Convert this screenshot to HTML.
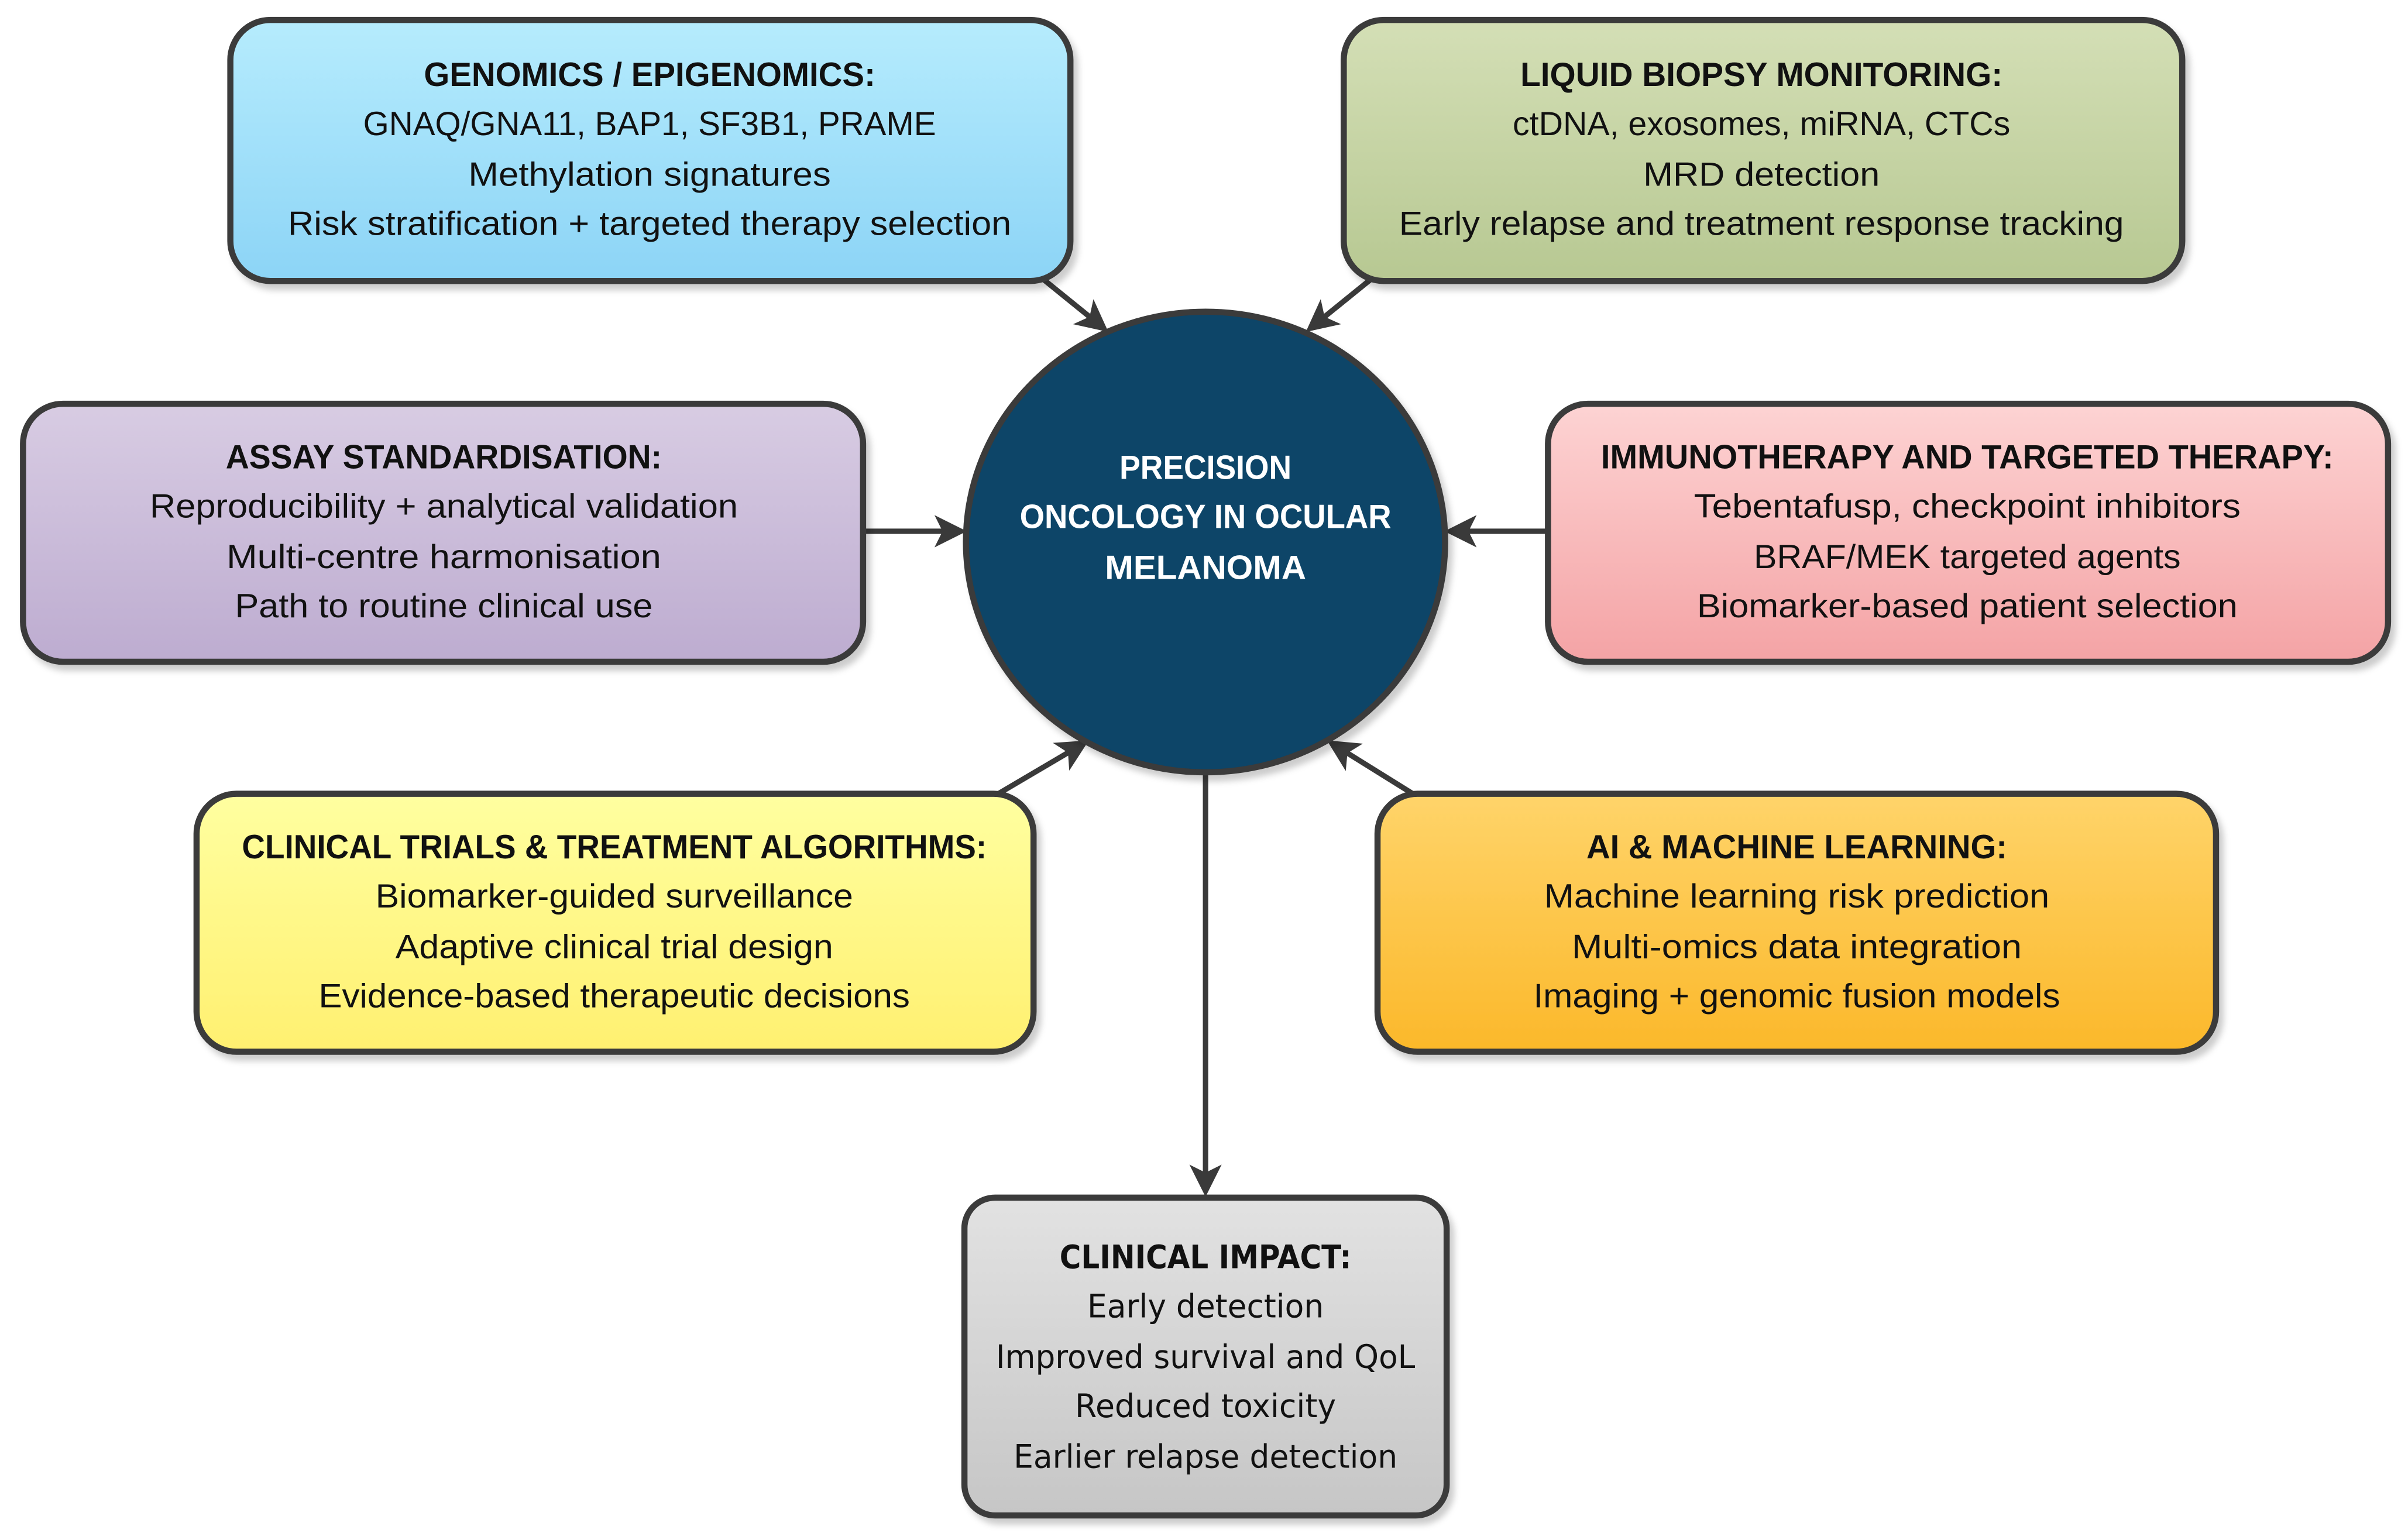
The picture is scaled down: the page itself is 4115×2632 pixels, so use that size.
<!DOCTYPE html>
<html><head><meta charset="utf-8"><style>
html,body{margin:0;padding:0;background:#fff}
svg{display:block}
text{font-family:"Liberation Sans",sans-serif;font-size:22px;fill:#111}
.t{font-weight:bold}
.c{fill:#fff;font-weight:bold;font-size:22px}
.v{font-family:"DejaVu Sans",sans-serif;font-size:21px}
</style></head><body>
<svg width="4115" height="2632" viewBox="0 0 1568 1003" preserveAspectRatio="none" xmlns="http://www.w3.org/2000/svg">
<defs>
<linearGradient id="g1" x1="0" y1="0" x2="0" y2="1"><stop offset="0" stop-color="#b6ecfd"/><stop offset="1" stop-color="#8cd4f6"/></linearGradient>
<linearGradient id="g2" x1="0" y1="0" x2="0" y2="1"><stop offset="0" stop-color="#d4dfb6"/><stop offset="1" stop-color="#b7c892"/></linearGradient>
<linearGradient id="g3" x1="0" y1="0" x2="0" y2="1"><stop offset="0" stop-color="#d8cce3"/><stop offset="1" stop-color="#bdacd0"/></linearGradient>
<linearGradient id="g4" x1="0" y1="0" x2="0" y2="1"><stop offset="0" stop-color="#fdd3d3"/><stop offset="1" stop-color="#f4a3a5"/></linearGradient>
<linearGradient id="g5" x1="0" y1="0" x2="0" y2="1"><stop offset="0" stop-color="#ffffa0"/><stop offset="1" stop-color="#fff070"/></linearGradient>
<linearGradient id="g6" x1="0" y1="0" x2="0" y2="1"><stop offset="0" stop-color="#ffd46a"/><stop offset="1" stop-color="#fbb82a"/></linearGradient>
<linearGradient id="g7" x1="0" y1="0" x2="0" y2="1"><stop offset="0" stop-color="#e2e2e2"/><stop offset="1" stop-color="#c6c6c6"/></linearGradient>
<filter id="sh" x="-5%" y="-5%" width="115%" height="120%"><feDropShadow dx="3" dy="4" stdDeviation="2" flood-color="#000" flood-opacity="0.2"/></filter>
<marker id="ah" markerWidth="6" markerHeight="6" refX="5" refY="3" orient="auto" markerUnits="strokeWidth"><path d="M0,0 L6,3 L0,6 L1.5,3 z" fill="#3a3a3a"/></marker>
</defs>
<g stroke="#3a3a3a" stroke-width="3.5" fill="none" marker-end="url(#ah)">
<line x1="677" y1="180" x2="719" y2="214"/>
<line x1="895" y1="180" x2="853" y2="214"/>
<line x1="562" y1="346" x2="626" y2="346"/>
<line x1="1008" y1="346" x2="944" y2="346"/>
<line x1="650" y1="517" x2="706" y2="484"/>
<line x1="920" y1="517" x2="867" y2="484"/>
<line x1="785" y1="502" x2="785" y2="776"/>
</g>
<g stroke="#3a3a3a" stroke-width="4" filter="url(#sh)">
<rect x="150" y="13" width="547" height="170" rx="26" fill="url(#g1)"/>
<rect x="875" y="13" width="546" height="170" rx="26" fill="url(#g2)"/>
<rect x="15" y="263" width="547" height="168" rx="26" fill="url(#g3)"/>
<rect x="1008" y="263" width="547" height="168" rx="26" fill="url(#g4)"/>
<rect x="128" y="517" width="545" height="168" rx="26" fill="url(#g5)"/>
<rect x="897" y="517" width="546" height="168" rx="26" fill="url(#g6)"/>
<rect x="628" y="780" width="314" height="207" rx="20" fill="url(#g7)"/>
<ellipse cx="785" cy="353" rx="156" ry="150" fill="#0d4467"/>
</g>
<g text-anchor="middle">
<text class="t" x="423" y="56" textLength="294" lengthAdjust="spacingAndGlyphs">GENOMICS / EPIGENOMICS:</text>
<text x="423" y="88" textLength="373" lengthAdjust="spacingAndGlyphs">GNAQ/GNA11, BAP1, SF3B1, PRAME</text>
<text x="423" y="121" textLength="236" lengthAdjust="spacingAndGlyphs">Methylation signatures</text>
<text x="423" y="153" textLength="471" lengthAdjust="spacingAndGlyphs">Risk stratification + targeted therapy selection</text>

<text class="t" x="1147" y="56" textLength="314" lengthAdjust="spacingAndGlyphs">LIQUID BIOPSY MONITORING:</text>
<text x="1147" y="88" textLength="324" lengthAdjust="spacingAndGlyphs">ctDNA, exosomes, miRNA, CTCs</text>
<text x="1147" y="121" textLength="154" lengthAdjust="spacingAndGlyphs">MRD detection</text>
<text x="1147" y="153" textLength="472" lengthAdjust="spacingAndGlyphs">Early relapse and treatment response tracking</text>

<text class="t" x="289" y="305" textLength="284" lengthAdjust="spacingAndGlyphs">ASSAY STANDARDISATION:</text>
<text x="289" y="337" textLength="383" lengthAdjust="spacingAndGlyphs">Reproducibility + analytical validation</text>
<text x="289" y="370" textLength="283" lengthAdjust="spacingAndGlyphs">Multi-centre harmonisation</text>
<text x="289" y="402" textLength="272" lengthAdjust="spacingAndGlyphs">Path to routine clinical use</text>

<text class="t" x="1281" y="305" textLength="477" lengthAdjust="spacingAndGlyphs">IMMUNOTHERAPY AND TARGETED THERAPY:</text>
<text x="1281" y="337" textLength="356" lengthAdjust="spacingAndGlyphs">Tebentafusp, checkpoint inhibitors</text>
<text x="1281" y="370" textLength="278" lengthAdjust="spacingAndGlyphs">BRAF/MEK targeted agents</text>
<text x="1281" y="402" textLength="352" lengthAdjust="spacingAndGlyphs">Biomarker-based patient selection</text>

<text class="t" x="400" y="559" textLength="485" lengthAdjust="spacingAndGlyphs">CLINICAL TRIALS &amp; TREATMENT ALGORITHMS:</text>
<text x="400" y="591" textLength="311" lengthAdjust="spacingAndGlyphs">Biomarker-guided surveillance</text>
<text x="400" y="624" textLength="285" lengthAdjust="spacingAndGlyphs">Adaptive clinical trial design</text>
<text x="400" y="656" textLength="385" lengthAdjust="spacingAndGlyphs">Evidence-based therapeutic decisions</text>

<text class="t" x="1170" y="559" textLength="274" lengthAdjust="spacingAndGlyphs">AI &amp; MACHINE LEARNING:</text>
<text x="1170" y="591" textLength="329" lengthAdjust="spacingAndGlyphs">Machine learning risk prediction</text>
<text x="1170" y="624" textLength="293" lengthAdjust="spacingAndGlyphs">Multi-omics data integration</text>
<text x="1170" y="656" textLength="343" lengthAdjust="spacingAndGlyphs">Imaging + genomic fusion models</text>

<text class="v t" x="785" y="826" textLength="190" lengthAdjust="spacingAndGlyphs">CLINICAL IMPACT:</text>
<text class="v" x="785" y="858" textLength="154" lengthAdjust="spacingAndGlyphs">Early detection</text>
<text class="v" x="785" y="891" textLength="273" lengthAdjust="spacingAndGlyphs">Improved survival and QoL</text>
<text class="v" x="785" y="923" textLength="170" lengthAdjust="spacingAndGlyphs">Reduced toxicity</text>
<text class="v" x="785" y="956" textLength="250" lengthAdjust="spacingAndGlyphs">Earlier relapse detection</text>

<text class="c" x="785" y="312" textLength="112" lengthAdjust="spacingAndGlyphs">PRECISION</text>
<text class="c" x="785" y="344" textLength="242" lengthAdjust="spacingAndGlyphs">ONCOLOGY IN OCULAR</text>
<text class="c" x="785" y="377" textLength="131" lengthAdjust="spacingAndGlyphs">MELANOMA</text>
</g>
</svg>
</body></html>
